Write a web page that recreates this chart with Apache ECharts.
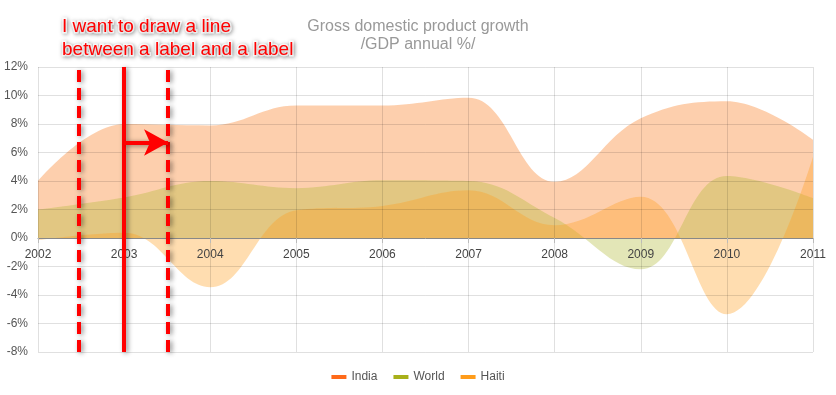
<!DOCTYPE html>
<html>
<head>
<meta charset="utf-8">
<script src="https://cdn.jsdelivr.net/npm/echarts@6/dist/echarts.min.js"></script>
<style>html,body{margin:0;padding:0;background:#fff;}#c{width:836px;height:395px;}</style>
</head>
<body>
<div id="c"></div>
<script>
var years = [2002, 2003, 2004, 2005, 2006, 2007, 2008, 2009, 2010, 2011];
var india = [4.0, 8.0, 7.9, 9.3, 9.3, 9.85, 3.95, 8.4, 9.6, 6.9];
var world = [2.0, 2.85, 4.0, 3.5, 4.05, 4.0, 1.4, -2.2, 4.35, 2.8];
var haiti = [-0.15, 0.37, -3.45, 1.95, 2.25, 3.35, 0.9, 2.9, -5.35, 5.7];
var yTicks = [-8, -6, -4, -2, 0, 2, 4, 6, 8, 10, 12];
var annotationLines = [2002.47, 2003, 2003.51];
var arrowFrom = [2003, 6.7];
var arrowTo = [2003.51, 6.7];

function pairs(vals) { return years.map(function (y, i) { return [y, vals[i]]; }); }

var font = "Arial, 'Liberation Sans', sans-serif";
var chart = echarts.init(document.getElementById('c'), null, {renderer: 'canvas'});
var redShadow = {shadowBlur: 5, shadowColor: 'rgba(0,0,0,0.45)', shadowOffsetX: 2, shadowOffsetY: 1};

chart.setOption({
  animation: false,
  title: [{
    text: 'Gross domestic product growth\n/GDP annual %/',
    left: 'center', top: 13,
    textStyle: {color: '#999', fontSize: 16, fontWeight: 'normal', fontFamily: font, lineHeight: 18}
  }, {
    text: 'I want to draw a line\nbetween a label and a label',
    left: 57, top: 10,
    textStyle: {color: '#ff0000', fontSize: 19, fontWeight: 'normal', fontFamily: font, lineHeight: 23,
      textBorderColor: '#fff', textBorderWidth: 3, textShadowBlur: 4, textShadowColor: 'rgba(0,0,0,0.35)', textShadowOffsetX: 1, textShadowOffsetY: 1}
  }],
  legend: {
    bottom: 7, left: 'center',
    icon: 'rect', itemWidth: 15, itemHeight: 4, itemGap: 16,
    textStyle: {color: '#555', fontSize: 12, fontFamily: font},
    data: ['India', 'World', 'Haiti']
  },
  grid: {left: 38, right: 23, top: 67, bottom: 43, containLabel: false},
  xAxis: {
    type: 'value', min: years[0], max: years[years.length - 1], interval: 1, z: 5,
    axisLine: {onZero: true, lineStyle: {color: '#888', width: 1}},
    axisTick: {show: true, length: 5, lineStyle: {color: '#bbb'}},
    axisLabel: {color: '#444', fontSize: 12, fontFamily: font, margin: -103, formatter: function (v) { return String(v); }},
    splitLine: {show: true, lineStyle: {color: 'rgba(0,0,0,0.12)'}}
  },
  yAxis: {
    type: 'value', min: yTicks[0], max: yTicks[yTicks.length - 1], interval: 2, z: 5,
    axisLine: {show: false}, axisTick: {show: false},
    axisLabel: {color: '#555', fontSize: 12, fontFamily: font, margin: 10, formatter: function (v) { return v + '%'; }},
    splitLine: {show: true, lineStyle: {color: 'rgba(0,0,0,0.12)'}}
  },
  series: [{
    name: 'India', type: 'line', data: pairs(india), smooth: 0.4, showSymbol: false,
    itemStyle: {color: '#ff6a1a'},
    lineStyle: {width: 0},
    areaStyle: {color: 'rgba(251,130,42,0.55)', origin: 0},
    markLine: {
      silent: true, symbol: ['none', 'none'], animation: false, z: 10,
      label: {show: false},
      data: [
        {xAxis: annotationLines[0], lineStyle: Object.assign({color: '#ff0000', width: 4, type: [12, 6]}, redShadow)},
        {xAxis: annotationLines[1], lineStyle: Object.assign({color: '#ff0000', width: 4, type: 'solid'}, redShadow)},
        {xAxis: annotationLines[2], lineStyle: Object.assign({color: '#ff0000', width: 4, type: [12, 6]}, redShadow)},
        [{coord: arrowFrom, symbol: 'none'}, {coord: arrowTo, symbol: 'arrow', symbolSize: [20, 24],
          lineStyle: Object.assign({color: '#ff0000', width: 4, type: 'solid'}, redShadow)}]
      ]
    }
  }, {
    name: 'World', type: 'line', data: pairs(world), smooth: 0.4, showSymbol: false,
    itemStyle: {color: '#a8b01a'},
    lineStyle: {width: 0},
    areaStyle: {color: 'rgba(175,184,50,0.5)', origin: 0}
  }, {
    name: 'Haiti', type: 'line', data: pairs(haiti), smooth: 0.4, showSymbol: false,
    itemStyle: {color: '#ff9c1a'},
    lineStyle: {width: 0},
    areaStyle: {color: 'rgba(255,160,30,0.5)', origin: 0}
  }]
});
</script>
</body>
</html>
